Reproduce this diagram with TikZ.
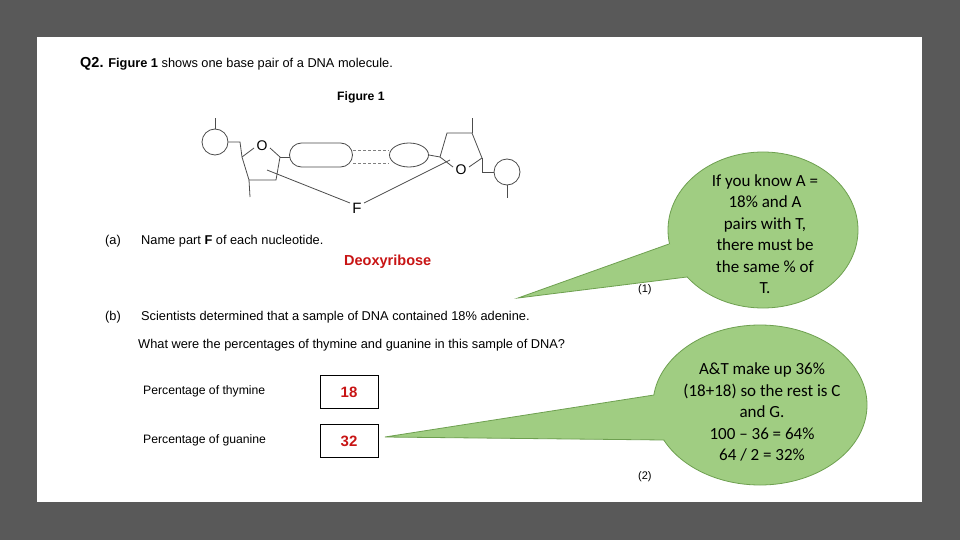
\documentclass[tikz,border=0pt]{standalone}
\usepackage{fontspec}
\setmainfont{Liberation Sans}
\newfontfamily\calib{Carlito}
\usetikzlibrary{shapes.geometric}
\definecolor{bgray}{RGB}{89,89,89}
\definecolor{bfill}{RGB}{160,205,130}
\definecolor{bline}{RGB}{110,160,80}
\definecolor{ansred}{RGB}{200,20,20}
\begin{document}
\begin{tikzpicture}[x=1pt,y=-1pt,
  txt/.style={anchor=west,inner sep=0pt,font=\fontsize{12.8}{14}\selectfont},
  fig/.style={draw=black!70,line width=0.8pt},
  ans/.style={draw,line width=0.8pt,minimum width=58pt,minimum height=33pt,text=ansred,font=\fontsize{15}{16}\bfseries\selectfont},
  bub/.style={fill=bfill,draw=bline,line width=0.8pt},
  btxt/.style={align=center,font=\calib\fontsize{17}{21.5}\selectfont}]
\fill[bgray] (0,0) rectangle (960,540);
\fill[white] (37,37) rectangle (922,502);
\node[txt] (t0) at (80,64) {\textbf{\fontsize{14.5}{14}\selectfont Q2.} \textbf{Figure 1} shows one base pair of a DNA molecule.};
\node[txt,font=\fontsize{12.2}{14}\bfseries\selectfont] (f1) at (337,97) {Figure 1};
% figure
\node[fig,circle,minimum size=26pt,inner sep=0pt] (c1) at (215,142) {};
\draw[fig] (c1.north) -- ++(0,-11);
\draw[fig] (c1.east) -- (240,142) -- (242,157);
\draw[fig] (242,157) -- (254,148);
\node[inner sep=0pt,font=\fontsize{14}{14}\selectfont] (o1) at (262,146) {O};
\draw[fig] (270,148) -- (280,157) -- (276,180) -- (249,180) -- (242,157);
\draw[fig] (249,180) -- (250,197);
\draw[fig] (280,157) -- (290,157);
\node[fig,rounded corners=12pt,minimum width=63pt,minimum height=24pt] (rr) at (321,155) {};
\node[fig,ellipse,minimum width=39pt,minimum height=24pt,inner sep=0pt] (el) at (409,155) {};
\draw[fig,densely dashed,draw=black!50] (353,150) -- (389,150) (353,163) -- (389,163);
\draw[fig] (el.east) -- (440,157);
\node[inner sep=0pt,font=\fontsize{14}{14}\selectfont] (o2) at (461,170) {O};
\draw[fig] (440,157) -- (453,167) (469,167) -- (482,158) -- (472,133) -- (447,133) -- (440,157);
\draw[fig] (472,133) -- (472,118);
\node[fig,circle,minimum size=26pt,inner sep=0pt] (c2) at (507,172) {};
\draw[fig] (482,158) -- (482,172) -- (c2.west);
\draw[fig] (c2.south) -- ++(0,13);
\node[inner sep=0pt,font=\fontsize{15}{15}\selectfont] (F) at (357,208) {F};
\draw[fig] (267,170) -- (350,203);
\draw[fig] (364,203) -- (450,160);
% (a)
\node[txt] (a) at (105,241) {(a)};
\node[txt] (aq) at (141,241) {Name part \textbf{F} of each nucleotide.};
\node[txt,text=ansred,font=\fontsize{14.5}{14}\bfseries\selectfont] (da) at (344,262) {Deoxyribose};
\node[txt,font=\fontsize{11}{12}\selectfont] (m1) at (638,290) {(1)};
\node[txt] (b) at (105,317) {(b)};
\node[txt] (bq) at (141,317) {Scientists determined that a sample of DNA contained 18\% adenine.};
\node[txt] (bq2) at (138,345) {What were the percentages of thymine and guanine in this sample of DNA?};
\node[txt,font=\fontsize{12.2}{14}\selectfont] (pt) at (143,391) {Percentage of thymine};
\node[txt,font=\fontsize{12.2}{14}\selectfont] (pg) at (143,440) {Percentage of guanine};
\node[ans] (a1) at (349,392) {18};
\node[ans] (a2) at (349,441) {32};
\node[txt,font=\fontsize{11}{12}\selectfont] (m2) at (638,477) {(2)};
% bubbles
\draw[bub] (763,230) ellipse (95 and 78);
\fill[bfill] (518,298) -- (669,244) -- (700,250) -- (687,277) -- cycle;
\draw[bline,line width=0.8pt] (669,244) -- (518,298) -- (687,277);
\node[btxt] (bt1) at (765,234) {If you know A =\\18\% and A\\pairs with T,\\there must be\\the same \% of\\T.};
\draw[bub] (760,405) ellipse (107 and 80);
\fill[bfill] (385,437) -- (654,395) -- (690,410) -- (664,440) -- cycle;
\draw[bline,line width=0.8pt] (654,395) -- (385,437) -- (664,440);
\node[btxt] (bt2) at (762,412) {A\&T make up 36\%\\(18+18) so the rest is C\\and G.\\100 – 36 = 64\%\\64 / 2 = 32\%};
\end{tikzpicture}
\end{document}
